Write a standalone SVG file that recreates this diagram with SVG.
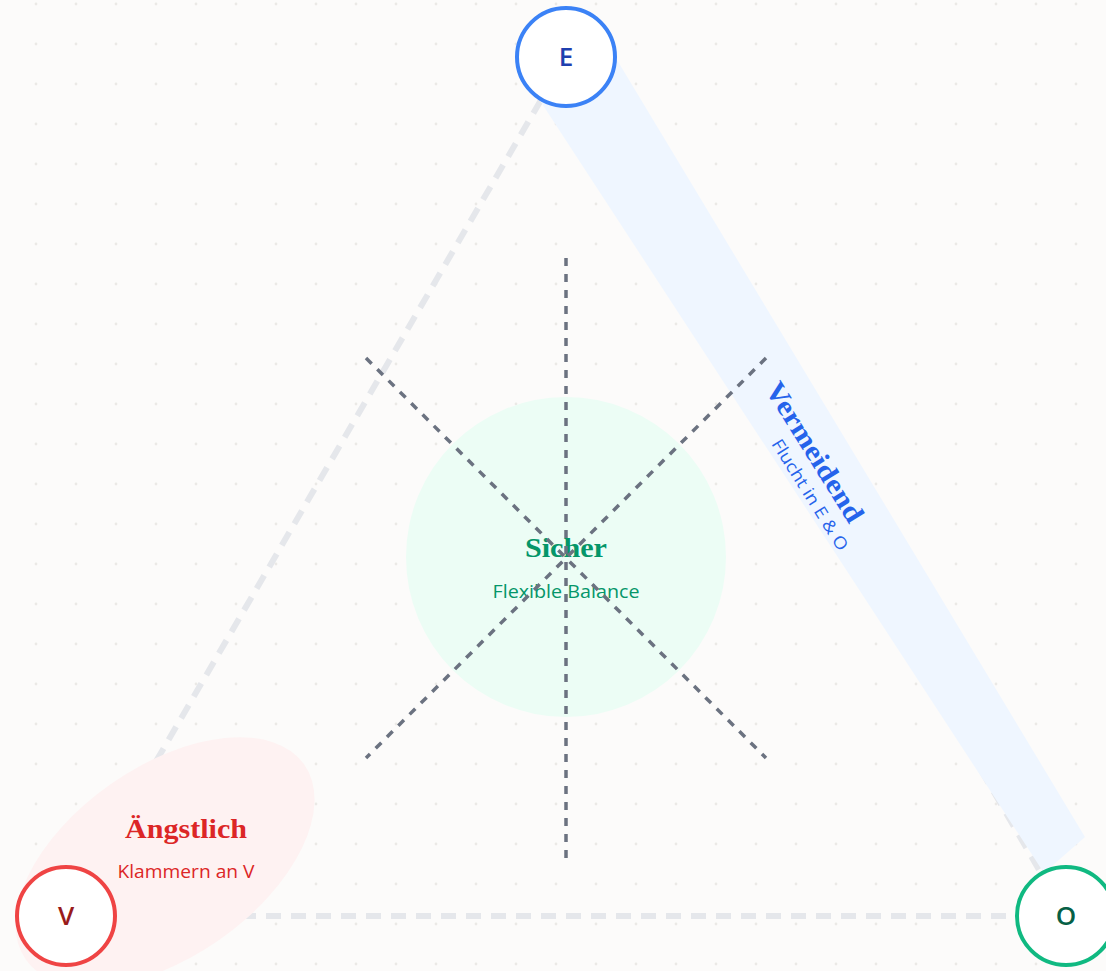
<svg xmlns="http://www.w3.org/2000/svg" width="1106" height="971" viewBox="0 0 1106 971">
  <defs>
    <pattern id="dots" patternUnits="userSpaceOnUse" x="16" y="-16" width="40" height="40">
      <circle cx="20" cy="20" r="1.4" fill="#ebe9e6"/>
    </pattern>
    <style>
      .edge { stroke: #e5e7eb; stroke-width: 6; stroke-dasharray: 15 10; fill: none; }
      .axis { stroke: #6b7280; stroke-width: 3.5; stroke-dasharray: 8 8; fill: none; }
      .node-ring { fill: #ffffff; stroke-width: 4; }
      .node-label { font-family: "Open Sans", "Noto Sans", sans-serif; font-size: 26px; font-weight: 600; text-anchor: middle; }
      .title { font-family: "Liberation Serif", "DejaVu Serif", serif; font-weight: 700; text-anchor: middle; }
      .sub { font-family: "Open Sans", "Noto Sans", sans-serif; text-anchor: middle; }
    </style>
  </defs>

  <!-- paper and dot grid -->
  <rect width="1106" height="971" fill="#fcfbfa"/>
  <rect width="1106" height="971" fill="url(#dots)"/>

  <!-- triangle frame -->
  <g id="frame">
    <line class="edge" x1="566" y1="57" x2="66" y2="916"/>
    <line class="edge" x1="66" y1="916" x2="1066" y2="916"/>
    <line class="edge" x1="566" y1="57" x2="1066" y2="916"/>
  </g>

  <!-- avoidant zone: band along the E–O side -->
  <g id="zone-vermeidend">
    <polygon points="520,70 605,40 1085,837 1044,873" fill="#eff6ff"/>
  </g>

  <!-- anxious zone: ellipse around V -->
  <g id="zone-aengstlich">
    <ellipse cx="165" cy="862" rx="170" ry="95" transform="rotate(-35 165 862)" fill="#fef2f2"/>
  </g>

  <!-- secure zone: centre circle -->
  <g id="zone-sicher">
    <circle cx="566" cy="557" r="160" fill="#ecfdf5"/>
  </g>

  <!-- labels of the zones -->
  <g id="label-sicher">
    <text class="title" x="566" y="557" font-size="28" fill="#059669" textLength="82" lengthAdjust="spacingAndGlyphs">Sicher</text>
    <text class="sub" x="566" y="598" font-size="18" fill="#059669" textLength="147" lengthAdjust="spacingAndGlyphs">Flexible Balance</text>
  </g>
  <g id="label-aengstlich">
    <text class="title" x="186" y="838" font-size="27" fill="#dc2626" textLength="122" lengthAdjust="spacingAndGlyphs">Ängstlich</text>
    <text class="sub" x="186" y="878" font-size="18" fill="#dc2626" textLength="137" lengthAdjust="spacingAndGlyphs">Klammern an V</text>
  </g>
  <g id="label-vermeidend">
    <text class="title" transform="translate(807 457) rotate(58)" x="0" y="0" font-size="28" fill="#2563eb" textLength="160" lengthAdjust="spacingAndGlyphs">Vermeidend</text>
    <text class="sub" transform="translate(805 498) rotate(58)" x="0" y="0" font-size="17" fill="#2563eb" textLength="128" lengthAdjust="spacingAndGlyphs">Flucht in E &amp; O</text>
  </g>

  <!-- dashed axes through the centre -->
  <g id="connectors">
    <line class="axis" x1="566" y1="258" x2="566" y2="858"/>
    <line class="axis" x1="366" y1="358" x2="766" y2="758"/>
    <line class="axis" x1="766" y1="358" x2="366" y2="758"/>
  </g>

  <!-- corner nodes -->
  <g id="node-E">
    <circle class="node-ring" cx="566" cy="57" r="49" stroke="#3b82f6"/>
    <text class="node-label" x="566" y="66" fill="#1e40af">E</text>
  </g>
  <g id="node-V">
    <circle class="node-ring" cx="66" cy="916" r="49" stroke="#ef4444"/>
    <text class="node-label" x="66" y="925" fill="#991b1b">V</text>
  </g>
  <g id="node-O">
    <circle class="node-ring" cx="1066" cy="916" r="49" stroke="#10b981"/>
    <text class="node-label" x="1066" y="925" fill="#065f46">O</text>
  </g>
</svg>
